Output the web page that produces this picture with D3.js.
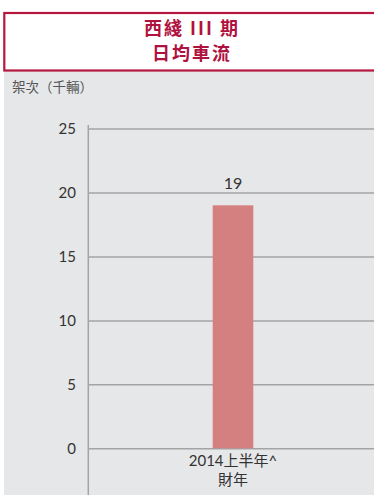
<!DOCTYPE html>
<html>
<head>
<meta charset="utf-8">
<script src="https://cdn.jsdelivr.net/npm/d3@7"></script>
<style>
  html, body { margin: 0; padding: 0; background: #fff; }
  svg { display: block; }
  text { font-family: "Lato", "Noto Sans CJK TC", sans-serif; }
</style>
</head>
<body>
<svg id="chart" width="374" height="495"></svg>
<script>
// Chart content
const titleLines = ["西綫 III 期", "日均車流"];
const yAxisTitle = "架次（千輛）";
const categories = ["2014上半年^"];
const categorySubLabels = ["財年"];
const values = [19];
const yTicks = [0, 5, 10, 15, 20, 25];

const W = 374, H = 495;
const svg = d3.select("#chart");

// Grey panel behind the plot
svg.append("rect")
  .attr("x", 4).attr("y", 71).attr("width", W - 4).attr("height", H - 71)
  .attr("fill", "#e6e7e9");

// Title box
svg.append("rect")
  .attr("x", 4.3).attr("y", 13).attr("width", W + 10).attr("height", 57.5)
  .attr("fill", "#fff").attr("stroke", "#b5173f").attr("stroke-width", 2.2);

svg.selectAll("text.title").data(titleLines).join("text")
  .attr("class", "title")
  .attr("x", 192).attr("y", (d, i) => 34.5 + i * 25)
  .attr("text-anchor", "middle")
  .attr("font-size", 18).attr("font-weight", 700)
  .attr("fill", "#b0123f")
  .style("font-family", "'Noto Sans CJK TC', sans-serif")
  .style("letter-spacing", "2px")
  .text(d => d);

svg.append("text")
  .attr("x", 12).attr("y", 92)
  .attr("font-size", 13.5).attr("fill", "#555")
  .style("font-family", "'Noto Sans CJK TC', sans-serif")
  .text(yAxisTitle);

// Scales
const x = d3.scaleBand().domain(categories).range([88, 378])
  .paddingInner(0.86).paddingOuter(0.43);
const y = d3.scaleLinear().domain([0, 25]).range([448.3, 128.6]);

// Gridlines and tick labels
const yAxis = d3.axisLeft(y).tickValues(yTicks).tickSize(0).tickPadding(12);
const gY = svg.append("g").attr("transform", "translate(88,0)").call(yAxis);
gY.select(".domain").remove();
gY.selectAll(".tick text")
  .attr("font-size", 15).attr("fill", "#333")
  .style("font-family", "Lato, sans-serif");
gY.selectAll(".tick").append("line")
  .attr("x1", 0).attr("x2", W).attr("stroke", "#a3a4a6").attr("stroke-width", 1.5);

// Vertical axis line
svg.append("line")
  .attr("x1", 88.3).attr("x2", 88.3).attr("y1", 125).attr("y2", H)
  .attr("stroke", "#a3a4a6").attr("stroke-width", 1.5);

// Bars
svg.selectAll("rect.bar").data(values).join("rect")
  .attr("class", "bar")
  .attr("x", (d, i) => x(categories[i]))
  .attr("width", x.bandwidth())
  .attr("y", d => y(d))
  .attr("height", d => y(0) - y(d))
  .attr("fill", "#d47f80");

// Value labels
svg.selectAll("text.val").data(values).join("text")
  .attr("class", "val")
  .attr("x", (d, i) => x(categories[i]) + x.bandwidth() / 2)
  .attr("y", d => y(d) - 16)
  .attr("text-anchor", "middle")
  .attr("font-size", 16).attr("fill", "#333")
  .text(d => d);

// Category labels
const cat = svg.selectAll("g.cat").data(categories).join("g").attr("class", "cat");
cat.append("text")
  .attr("x", d => x(d) + x.bandwidth() / 2)
  .attr("y", 466)
  .attr("text-anchor", "middle")
  .attr("font-size", 15).attr("fill", "#333")
  .text(d => d);
cat.append("text")
  .attr("x", d => x(d) + x.bandwidth() / 2)
  .attr("y", 485)
  .attr("text-anchor", "middle")
  .attr("font-size", 15).attr("fill", "#333")
  .text((d, i) => categorySubLabels[i]);
</script>
</body>
</html>
